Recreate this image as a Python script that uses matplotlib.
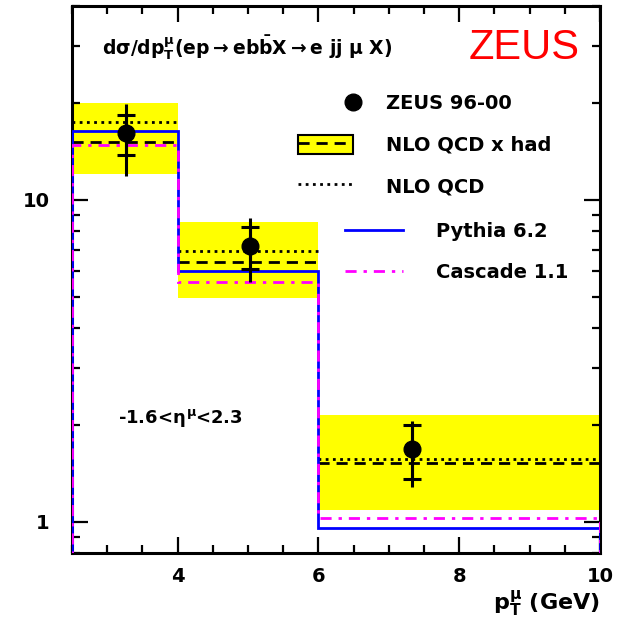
import numpy as np
import matplotlib
matplotlib.use("Agg")
import matplotlib.pyplot as plt
from matplotlib.lines import Line2D
from matplotlib.patches import Patch
from matplotlib.legend_handler import HandlerLine2D
from matplotlib.ticker import MultipleLocator, LogLocator, FormatStrFormatter, NullFormatter

# bins in p_T^mu (GeV)
edges = [2.5, 4.0, 6.0, 10.0]

# ZEUS 96-00 data points
data_x = [3.27, 5.03, 7.33]
data_y = [16.1, 7.21, 1.685]
stat_lo = [13.8, 6.12, 1.36]
stat_hi = [18.4, 8.22, 2.00]
tot_lo = [11.9, 5.55, 1.28]
tot_hi = [19.8, 8.77, 2.05]

# predictions
nlo_had = [15.1, 6.40, 1.52]
nlo_had_lo = [12.05, 4.94, 1.09]
nlo_had_hi = [20.0, 8.52, 2.14]
nlo = [17.4, 6.92, 1.57]
pythia = [16.4, 6.01, 0.96]
cascade = [14.8, 5.55, 1.027]


class RightMarker(HandlerLine2D):
    # single marker sitting at the right end of the handle box
    def get_xdata(self, legend, xdescent, ydescent, width, height, fontsize):
        xm = -xdescent + width
        xd = np.array([xm - 1.0, xm + 1.0])
        return xd, np.array([xm])


plt.rcParams['font.family'] = "DejaVu Sans"
plt.rcParams['font.weight'] = "bold"
plt.rcParams['mathtext.fontset'] = "custom"
plt.rcParams['mathtext.rm'] = "DejaVu Sans:bold"
plt.rcParams['mathtext.it'] = "DejaVu Sans:bold"
plt.rcParams['mathtext.bf'] = "DejaVu Sans:bold"

fig = plt.figure(figsize=(6.28, 6.28), dpi=100)
ax = fig.add_axes([0.1146, 0.1194, 0.8408, 0.8710])

e = np.array(edges)
ax.stairs(nlo_had_hi, edges, baseline=nlo_had_lo, fill=True, color="#ffff00", lw=0, zorder=1)
ax.hlines(nlo_had, e[:-1], e[1:], colors="black", linestyles=(0, (4, 2.5)), lw=2.0, zorder=3)
ax.hlines(nlo, e[:-1], e[1:], colors="black", linestyles=(0, (1, 1.6)), lw=2.0, zorder=3)
ax.stairs(pythia, edges, baseline=0.01, color="#0000ff", lw=2.0, zorder=4)
ax.stairs(cascade, edges, baseline=0.01, color="#ff00ff", lw=2.0,
          linestyle=(0, (4, 2.5, 1.2, 2.5)), zorder=5)

y = np.array(data_y)
ax.errorbar(data_x, data_y, yerr=[y - np.array(tot_lo), np.array(tot_hi) - y],
            fmt="none", ecolor="black", elinewidth=2.2, zorder=6)
ax.errorbar(data_x, data_y, yerr=[y - np.array(stat_lo), np.array(stat_hi) - y],
            fmt="o", color="black", ms=12, elinewidth=2.2, capsize=6.5,
            capthick=2.2, zorder=7)

ax.set_yscale("log")
ax.set_xlim(2.5, 10)
ax.set_ylim(0.8, 40)

ax.xaxis.set_major_locator(MultipleLocator(2))
ax.xaxis.set_minor_locator(MultipleLocator(0.5))
ax.yaxis.set_major_locator(LogLocator(base=10))
ax.yaxis.set_minor_locator(LogLocator(base=10, subs=np.arange(2, 10) / 10.0, numticks=20))
ax.yaxis.set_major_formatter(FormatStrFormatter("%g"))
ax.yaxis.set_minor_formatter(NullFormatter())

ax.tick_params(which="both", direction="in", top=True, right=True, width=1.6, labelsize=14)
ax.tick_params(which="major", length=11.5)
ax.tick_params(which="minor", length=6)
ax.tick_params(axis="y", pad=16)
ax.tick_params(axis="x", pad=10)
for s in ax.spines.values():
    s.set_linewidth(2.2)

ax.set_xlabel(r"p$_T^\mu$ (GeV)", loc="right", fontsize=16, fontweight="bold", labelpad=2)

ax.text(0.057, 0.923, r"d$\sigma$/dp$_T^\mu$(ep$\rightarrow$eb$\bar{\rm b}$X$\rightarrow$e jj $\mu$ X)",
        transform=ax.transAxes, fontsize=13.5, va="center", ha="left")
ax.text(0.962, 0.923, "ZEUS", transform=ax.transAxes, fontsize=30, color="#ff0000",
        fontweight="normal", family="Liberation Sans", va="center", ha="right")
ax.text(0.087, 0.247, r"-1.6<$\eta^\mu$<2.3", transform=ax.transAxes,
        fontsize=13, va="center", ha="left")

h_data = Line2D([], [], ls="none", marker="o", color="black", ms=12)
h_band = (Patch(facecolor="#ffff00", edgecolor="black", lw=1.5),
          Line2D([], [], color="black", ls=(0, (4, 2.5)), lw=2.0))
h_nlo = Line2D([], [], color="black", ls=(0, (1, 1.6)), lw=2.0)
leg1 = ax.legend([h_data, h_band, h_nlo], ["ZEUS 96-00", "NLO QCD x had", "NLO QCD"],
                 loc="upper left", bbox_to_anchor=(0.428, 0.84), frameon=False,
                 fontsize=14, handlelength=2.83, handleheight=1.1, handletextpad=1.7,
                 labelspacing=1.1, borderpad=0, borderaxespad=0,
                 handler_map={h_data: RightMarker()})
ax.add_artist(leg1)

h_py = Line2D([], [], color="#0000ff", lw=2.0)
h_ca = Line2D([], [], color="#ff00ff", lw=2.0, ls=(0, (4, 2.5, 1.2, 2.5)))
ax.legend([h_py, h_ca], ["Pythia 6.2", "Cascade 1.1"],
          loc="upper left", bbox_to_anchor=(0.517, 0.6055), frameon=False,
          fontsize=14, handlelength=2.98, handletextpad=1.7,
          labelspacing=1.12, borderpad=0, borderaxespad=0)

fig.savefig("out.png", dpi=100)
